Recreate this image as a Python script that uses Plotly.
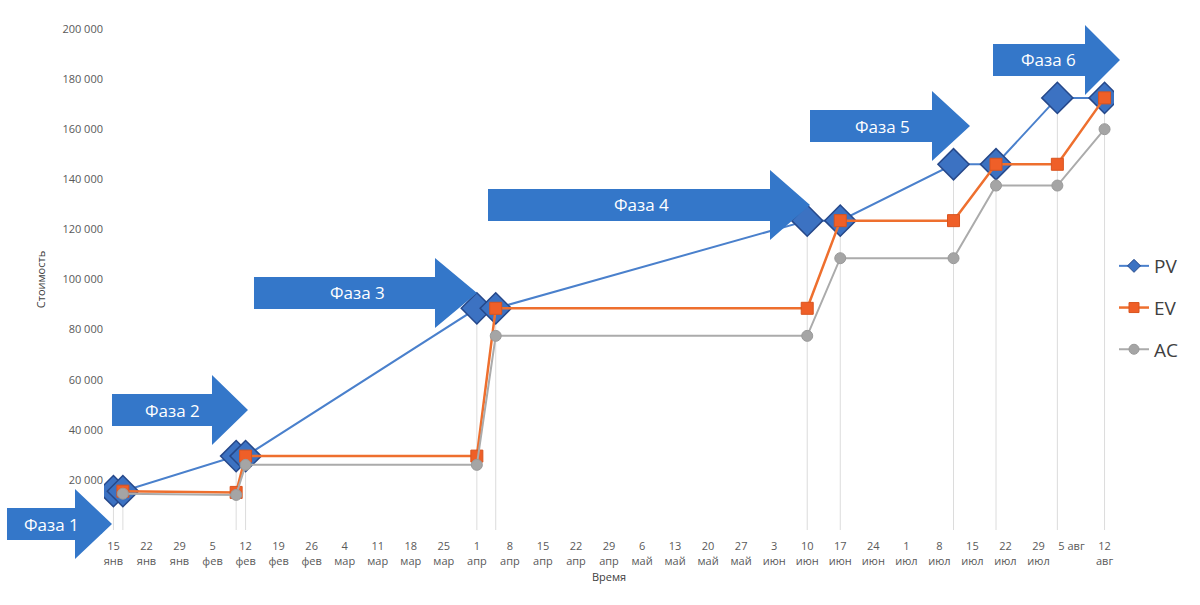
import plotly.graph_objects as go
import pandas as pd

# ---------------- data ----------------
pv_dates = ['2024-01-15', '2024-01-17', '2024-02-10', '2024-02-12', '2024-04-01', '2024-04-05',
            '2024-06-10', '2024-06-17', '2024-07-11', '2024-07-20', '2024-08-02', '2024-08-12']
pv_values = [15500, 15500, 29500, 29500, 88500, 88500, 123500, 123500, 146000, 146000, 172500, 172500]

ev_dates = ['2024-01-17', '2024-02-10', '2024-02-12', '2024-04-01', '2024-04-05',
            '2024-06-10', '2024-06-17', '2024-07-11', '2024-07-20', '2024-08-02', '2024-08-12']
ev_values = [15500, 15000, 29500, 29500, 88500, 88500, 123500, 123500, 146000, 146000, 172500]

ac_dates = ['2024-01-17', '2024-02-10', '2024-02-12', '2024-04-01', '2024-04-05',
            '2024-06-10', '2024-06-17', '2024-07-11', '2024-07-20', '2024-08-02', '2024-08-12']
ac_values = [14500, 14000, 26000, 26000, 77500, 77500, 108500, 108500, 137500, 137500, 160000]

tick_text = ['15<br>янв', '22<br>янв', '29<br>янв', '5<br>фев', '12<br>фев', '19<br>фев', '26<br>фев',
             '4<br>мар', '11<br>мар', '18<br>мар', '25<br>мар', '1<br>апр', '8<br>апр', '15<br>апр',
             '22<br>апр', '29<br>апр', '6<br>май', '13<br>май', '20<br>май', '27<br>май', '3<br>июн',
             '10<br>июн', '17<br>июн', '24<br>июн', '1<br>июл', '8<br>июл', '15<br>июл', '22<br>июл',
             '29<br>июл', '5 авг<br> ', '12<br>авг']
tick_dates = list(pd.date_range('2024-01-15', periods=len(tick_text), freq='7D').strftime('%Y-%m-%d'))

y_tick_vals = [0, 20000, 40000, 60000, 80000, 100000, 120000, 140000, 160000, 180000, 200000]
y_tick_text = ['0', '20 000', '40 000', '60 000', '80 000', '100 000', '120 000', '140 000',
               '160 000', '180 000', '200 000']

phase_labels = ['Фаза 1', 'Фаза 2', 'Фаза 3', 'Фаза 4', 'Фаза 5', 'Фаза 6']

# ---------------- layout constants ----------------
W, H = 1200, 605
L, R, T, B = 104, 86, 29, 75
PW, PH = W - L - R, H - T - B

def px(x):
    return (x - L) / PW

def py(y):
    return (H - B - y) / PH

FONT = 'Open Sans'
PV_LINE, PV_FILL, PV_EDGE = '#4a80cc', '#3c72c2', '#26488a'
EV_LINE, EV_FILL, EV_EDGE = '#ee6f2e', '#ef5f28', '#d9541f'
AC_LINE, AC_FILL, AC_EDGE = '#ababab', '#a5a5a5', '#9a9a9a'

fig = go.Figure()

# drop lines (from the highest point to the axis at every date)
drop_x, drop_y = [], []
for d, v in zip(pv_dates, pv_values):
    drop_x += [d, d, None]
    drop_y += [v, 0, None]
fig.add_trace(go.Scatter(x=drop_x, y=drop_y, mode='lines', line=dict(color='#dcdcdc', width=1),
                         hoverinfo='skip', showlegend=False))

fig.add_trace(go.Scatter(
    x=pv_dates, y=pv_values, name='PV', mode='lines+markers', showlegend=False,
    line=dict(color=PV_LINE, width=2),
    marker=dict(symbol='diamond', size=24, color=PV_FILL, line=dict(color=PV_EDGE, width=1.5))))
fig.add_trace(go.Scatter(
    x=ev_dates, y=ev_values, name='EV', mode='lines+markers', showlegend=False,
    line=dict(color=EV_LINE, width=2.5),
    marker=dict(symbol='square', size=12, color=EV_FILL, line=dict(color=EV_EDGE, width=1))))
fig.add_trace(go.Scatter(
    x=ac_dates, y=ac_values, name='AC', mode='lines+markers', showlegend=False,
    line=dict(color=AC_LINE, width=2),
    marker=dict(symbol='circle', size=11, color=AC_FILL, line=dict(color=AC_EDGE, width=1))))

# legend entries (small symbols as in the original legend)
for name, sym, lc, fc, ec, lw in [('PV', 'diamond', PV_LINE, PV_FILL, PV_EDGE, 2),
                                  ('EV', 'square', EV_LINE, EV_FILL, EV_EDGE, 2.5),
                                  ('AC', 'circle', AC_LINE, AC_FILL, AC_EDGE, 2)]:
    fig.add_trace(go.Scatter(x=[None], y=[None], name=name, mode='lines+markers', legendgroup=name,
                             line=dict(color=lc, width=lw),
                             marker=dict(symbol=sym, size=10, color=fc, line=dict(color=ec, width=1))))

# phase arrows (pixel geometry)
arrows = [  # x0 body left, x1 head start, x2 tip, yc center
    (7, 75, 112, 524),
    (112, 212, 248, 410),
    (254, 435, 477, 293),
    (488, 770, 810, 205),
    (810, 932, 970, 126),
    (993, 1085, 1120, 60),
]
bh, hh = 16, 35
shapes = []
annotations = []
for (x0, x1, x2, yc), lab in zip(arrows, phase_labels):
    pts = [(x0, yc - bh), (x1, yc - bh), (x1, yc - hh), (x2, yc), (x1, yc + hh), (x1, yc + bh), (x0, yc + bh)]
    path = 'M ' + ' L '.join(f'{px(a):.5f},{py(b):.5f}' for a, b in pts) + ' Z'
    shapes.append(dict(type='path', xref='paper', yref='paper', path=path,
                       fillcolor='#3477c9', line=dict(width=0), layer='above'))
    annotations.append(dict(x=px((x0 + x2) / 2 - 8), y=py(yc), xref='paper', yref='paper',
                            xanchor='center', yanchor='middle',
                            text=lab, showarrow=False, font=dict(family=FONT, size=17, color='white')))

fig.update_layout(
    width=W, height=H,
    margin=dict(l=L, r=R, t=T, b=B, pad=0),
    paper_bgcolor='white', plot_bgcolor='white',
    font=dict(family=FONT, color='#595959', size=11),
    shapes=shapes,
    annotations=annotations,
    showlegend=True,
    legend=dict(x=1.0, xanchor='left', y=py(308), yanchor='middle',
                font=dict(family=FONT, size=19, color='#404040'),
                tracegroupgap=14, bgcolor='rgba(0,0,0,0)'),
    xaxis=dict(type='date', range=['2024-01-13', '2024-08-14'], tickvals=tick_dates, ticktext=tick_text,
               showgrid=False, zeroline=False, showline=False, ticks='outside', ticklen=6,
               tickcolor='rgba(0,0,0,0)', tickfont=dict(size=11, color='#595959'),
               title=dict(text='Время', font=dict(size=11, color='#404040'), standoff=6)),
    yaxis=dict(range=[0, 200000], tickvals=y_tick_vals, ticktext=y_tick_text, showgrid=False,
               zeroline=False, showline=False, ticks='', tickfont=dict(size=11, color='#595959'),
               title=dict(text='Стоимость', font=dict(size=11, color='#404040'), standoff=14)),
)

fig.write_html('out.html')
